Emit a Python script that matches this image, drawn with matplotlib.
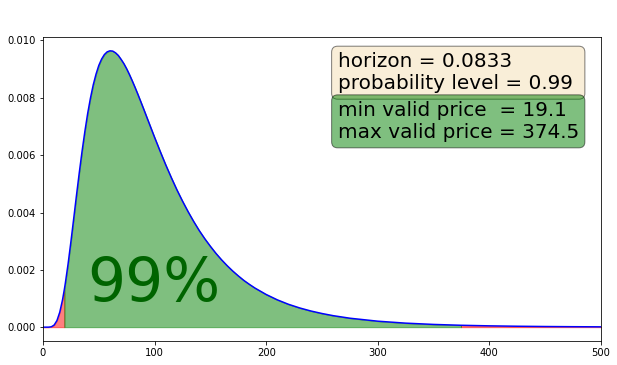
import numpy as np
import matplotlib
matplotlib.use('Agg')
import matplotlib.pyplot as plt

# price grid and density values
price = [0, 5, 7.5, 10, 12.5, 15, 17.5, 19.1, 20, 22.5, 25, 27.5, 30, 32.5,
         35, 37.5, 40, 42.5, 45, 47.5, 50, 52.5, 55, 57.5, 60, 62.5, 65,
         67.5, 70, 72.5, 75, 77.5, 80, 82.5, 85, 87.5, 90, 92.5, 95, 97.5,
         100, 105, 110, 115, 120, 125, 130, 135, 140, 145, 150, 155, 160,
         165, 170, 175, 180, 185, 190, 200, 210, 220, 230, 240, 250, 260,
         275, 300, 325, 350, 374.5, 400, 425, 450, 475, 500]
density = [0.0, 0.000001, 0.000014, 0.000075, 0.000231, 0.00052, 0.000956,
           0.001311, 0.001532, 0.002216, 0.00298, 0.003785, 0.0046, 0.005389,
           0.006136, 0.006825, 0.00745, 0.007988, 0.00845, 0.008825, 0.00913,
           0.009352, 0.00951, 0.009604, 0.00964, 0.00963, 0.00957, 0.009477,
           0.00934, 0.00919, 0.00901, 0.008808, 0.00859, 0.008362, 0.008124,
           0.007879, 0.00763, 0.007377, 0.007124, 0.006872, 0.00662,
           0.006133, 0.00566, 0.005215, 0.00479, 0.004398, 0.00403, 0.003688,
           0.00337, 0.003083, 0.00282, 0.002573, 0.00235, 0.002146, 0.001959,
           0.001789, 0.00163, 0.001492, 0.001363, 0.00114, 0.000953,
           0.000798, 0.000671, 0.000565, 0.000477, 0.000402, 0.000313,
           0.000209, 0.000141, 0.0000962, 0.0000669, 0.0000466, 0.0000328,
           0.0000234, 0.0000168, 0.0000122]

horizon = 0.0833
prob_level = 0.99
min_price = 19.1
max_price = 374.5

x = np.array(price)
y = np.array(density)

fig = plt.figure(figsize=(617 / 72, 365 / 72), dpi=72)
ax = fig.add_axes([43 / 617, 24 / 365, 558 / 617, 304 / 365])

ax.plot(x, y, 'b', lw=1.5)
ax.fill_between(x, y, where=(x <= min_price), color='r', alpha=0.5)
ax.fill_between(x, y, where=(x >= max_price), color='r', alpha=0.5)
ax.fill_between(x, y, where=(x >= min_price) & (x <= max_price), color='g', alpha=0.5)
ax.set_xlim(0, 500)

ax.text(40, 0.00092, '%d%%' % round(prob_level * 100), fontsize=60,
        color='darkgreen')

props = dict(boxstyle='round', facecolor='wheat', alpha=0.5)
ax.text(0.528, 0.95, 'horizon = %.4f\nprobability level = %.2f ' % (horizon, prob_level),
        transform=ax.transAxes, fontsize=20, va='top', bbox=props)
props2 = dict(boxstyle='round', facecolor='g', alpha=0.5)
ax.text(0.528, 0.79, 'min valid price  = %.1f\nmax valid price = %.1f' % (min_price, max_price),
        transform=ax.transAxes, fontsize=20, va='top', bbox=props2)

fig.savefig('out.png', dpi=72)
